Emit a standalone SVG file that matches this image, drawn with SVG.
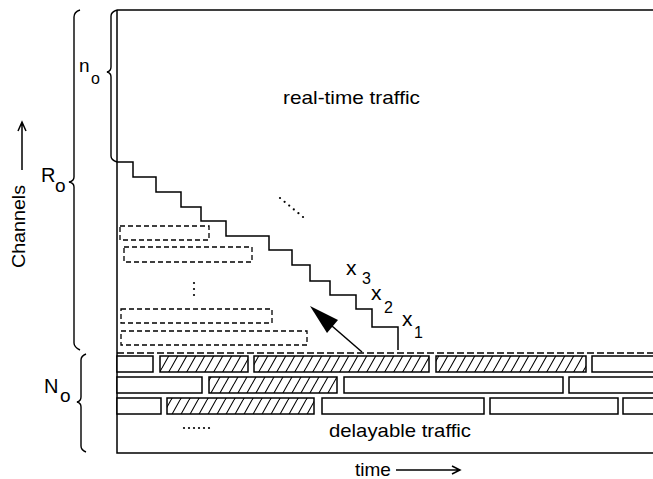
<svg xmlns="http://www.w3.org/2000/svg" width="653" height="479" viewBox="0 0 653 479">
  <style>
    .ln { fill: none; stroke: #000; stroke-width: 1.5; stroke-linejoin: miter; }
    .brace { fill: none; stroke: #000; stroke-width: 1.4; }
    .dash { fill: none; stroke: #000; stroke-width: 1.3; stroke-dasharray: 5 3; }
    .slot { fill: #fff; stroke: #000; stroke-width: 1.5; }
    .busy { fill: url(#hatch); stroke: #000; stroke-width: 1.5; }
    .lbl { font-family: "Liberation Sans", Arial, sans-serif; fill: #000; }
    .dot { fill: #000; }
  </style>
  <defs>
    <pattern id="hatch" patternUnits="userSpaceOnUse" x="0" y="0" width="9" height="16">
      <path d="M-9,16 L0,0 M0,16 L9,0 M9,16 L18,0" stroke="#000" stroke-width="1.1" fill="none"/>
    </pattern>
  </defs>

  <rect width="653" height="479" fill="#fff"/>

  <!-- channel/time frame -->
  <g id="frame">
    <path class="ln" d="M117,10 H653 M117,10 V453 H653"/>
  </g>

  <!-- axis labels -->
  <g id="axis-channels">
    <text class="lbl" font-size="19" transform="translate(25,268) rotate(-90)" textLength="83" lengthAdjust="spacingAndGlyphs">Channels</text>
    <path class="ln" d="M22,170 V122 M18,131 L22,122 L26,131"/>
  </g>
  <g id="axis-time">
    <text class="lbl" font-size="19" x="355" y="476">time</text>
    <path class="ln" d="M396,470 H460 M452,466 L460,470 L452,474"/>
  </g>

  <!-- braces with their sizes -->
  <g id="brace-R0">
    <path class="brace" d="M80,10 Q74,12 74,17 V177 Q74,181 69,182 Q74,183 74,187 V343 Q74,347 80,350"/>
    <text class="lbl" font-size="20" x="41" y="182">R</text>
    <text class="lbl" font-size="19" x="55" y="192">o</text>
  </g>
  <g id="brace-n0">
    <path class="brace" d="M117,10 Q111,12 111,16 V67 Q111,71 107,72 Q111,73 111,77 V156 Q111,160 117,162"/>
    <text class="lbl" font-size="19" x="79" y="72">n</text>
    <text class="lbl" font-size="16" x="91" y="84">o</text>
  </g>
  <g id="brace-N0">
    <path class="brace" d="M86,354 Q81,356 81,360 V397 Q81,401 77,402 Q81,403 81,407 V446 Q81,450 86,452"/>
    <text class="lbl" font-size="20" x="44" y="393">N</text>
    <text class="lbl" font-size="19" x="60" y="402">o</text>
  </g>

  <!-- real-time region -->
  <g id="realtime">
    <text class="lbl" font-size="19" x="283" y="104" textLength="137" lengthAdjust="spacingAndGlyphs">real-time traffic</text>
    <path class="ln" d="M117,162 H133 V177 H156 V192 H181 V207 H201 V221 H226 V236 H269 V250 H292 V265 H310 V281 H330 V295 H356 V309 H372 V327 H398 V350"/>
    <g class="dot">
      <circle cx="280" cy="198" r="1.1"/>
      <circle cx="284.6" cy="201.8" r="1.1"/>
      <circle cx="289.2" cy="205.6" r="1.1"/>
      <circle cx="293.8" cy="209.4" r="1.1"/>
      <circle cx="298.4" cy="213.2" r="1.1"/>
      <circle cx="303" cy="217" r="1.1"/>
    </g>
    <text class="lbl" font-size="21" x="346" y="275">x</text>
    <text class="lbl" font-size="16" x="362" y="284">3</text>
    <text class="lbl" font-size="21" x="371" y="300">x</text>
    <text class="lbl" font-size="16" x="384" y="313">2</text>
    <text class="lbl" font-size="21" x="402" y="326">x</text>
    <text class="lbl" font-size="16" x="414" y="338">1</text>
  </g>

  <!-- waiting delayable requests -->
  <g id="queued">
    <rect class="dash" x="120" y="226" width="89" height="14"/>
    <rect class="dash" x="124" y="247" width="128" height="15"/>
    <g class="dot">
      <circle cx="194" cy="283" r="1.1"/>
      <circle cx="194" cy="289" r="1.1"/>
      <circle cx="194" cy="295" r="1.1"/>
    </g>
    <rect class="dash" x="121" y="309" width="151" height="14"/>
    <rect class="dash" x="121" y="331" width="186" height="14"/>
  </g>

  <!-- boundary between real-time and delayable channels, and the move arrow -->
  <g id="connectors">
    <path fill="none" stroke="#000" stroke-width="1.3" stroke-dasharray="7 3" d="M117,353 H653"/>
    <path class="ln" d="M362,352 L332,326"/>
    <polygon fill="#000" points="310,306 338,320 327,333"/>
  </g>

  <!-- delayable traffic slots -->
  <g id="delayable">
    <rect class="slot" x="117" y="356" width="36" height="16"/>
    <rect class="busy" x="160" y="356" width="88" height="16"/>
    <rect class="busy" x="254" y="356" width="175" height="16"/>
    <rect class="busy" x="436" y="356" width="150" height="16"/>
    <rect class="slot" x="592" y="356" width="70" height="16"/>

    <rect class="slot" x="117" y="377" width="85" height="16"/>
    <rect class="busy" x="209" y="377" width="128" height="16"/>
    <rect class="slot" x="344" y="377" width="219" height="16"/>
    <rect class="slot" x="569" y="377" width="93" height="16"/>

    <rect class="slot" x="117" y="398" width="44" height="16"/>
    <rect class="busy" x="167" y="398" width="147" height="16"/>
    <rect class="slot" x="322" y="398" width="162" height="16"/>
    <rect class="slot" x="490" y="398" width="128" height="16"/>
    <rect class="slot" x="623" y="398" width="39" height="16"/>

    <g class="dot">
      <circle cx="184" cy="428" r="1.1"/>
      <circle cx="189" cy="428" r="1.1"/>
      <circle cx="194" cy="428" r="1.1"/>
      <circle cx="199" cy="428" r="1.1"/>
      <circle cx="204" cy="428" r="1.1"/>
      <circle cx="209" cy="428" r="1.1"/>
    </g>
    <text class="lbl" font-size="19" x="329" y="437" textLength="142" lengthAdjust="spacingAndGlyphs">delayable traffic</text>
  </g>
</svg>
